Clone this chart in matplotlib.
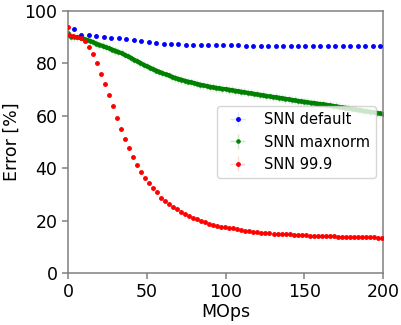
import numpy as np
import matplotlib
matplotlib.use("Agg")
import matplotlib.pyplot as plt

# SNN default (blue)
default_x = np.arange(3.8, 200, 4.74)
default_err = [93.2, 91.0, 90.7, 90.3, 90.0, 89.8, 89.6, 89.3, 88.9, 88.5,
               88.1, 87.8, 87.6, 87.4, 87.3, 87.2, 87.1, 87.0, 87.0, 86.9,
               86.9, 86.9, 86.9, 86.8, 86.8, 86.8, 86.8, 86.8, 86.8, 86.8,
               86.7, 86.7, 86.7, 86.7, 86.7, 86.7, 86.7, 86.7, 86.7, 86.7,
               86.7, 86.7]

# SNN maxnorm (green), every 2 MOps
maxnorm_x = np.arange(0, 201, 2)
maxnorm_err = [91.5, 90.2, 90.1, 90.0, 89.7, 89.4, 89.0, 88.6, 88.1, 87.6,
               87.1, 86.7, 86.2, 85.8, 85.3, 84.9, 84.4, 83.9, 83.3, 82.7,
               82.1, 81.4, 80.8, 80.2, 79.5, 78.9, 78.4, 77.8, 77.3, 76.8,
               76.3, 75.8, 75.4, 74.9, 74.5, 74.1, 73.8, 73.4, 73.1, 72.8,
               72.5, 72.2, 71.9, 71.6, 71.4, 71.1, 70.9, 70.7, 70.5, 70.3,
               70.2, 70.0, 69.8, 69.6, 69.4, 69.2, 69.0, 68.8, 68.6, 68.4,
               68.2, 68.0, 67.8, 67.6, 67.4, 67.2, 67.1, 66.9, 66.7, 66.5,
               66.3, 66.1, 65.9, 65.7, 65.5, 65.4, 65.2, 65.0, 64.9, 64.7,
               64.5, 64.4, 64.2, 64.0, 63.8, 63.6, 63.4, 63.2, 63.1, 62.9,
               62.7, 62.5, 62.3, 62.1, 61.9, 61.7, 61.5, 61.3, 61.1, 60.9,
               60.7]
maxnorm_band = 1.5

# SNN 99.9 (red)
p999_x = np.concatenate([[0.0], np.arange(0.4, 200, 2.55)])
p999_err = [93.8,
            90.8, 90.6, 90.2, 89.9, 88.5, 86.3, 83.5, 80.0, 76.0, 72.0,
            67.8, 63.6, 59.2, 55.0, 51.3, 47.7, 44.4, 41.3, 38.5, 36.3,
            34.4, 32.4, 30.8, 28.7, 27.5, 26.2, 25.1, 24.3, 23.4, 22.6,
            21.9, 21.1, 20.5, 19.7, 19.4, 18.8, 18.4, 17.9, 17.7, 17.4,
            17.2, 17.0, 16.7, 16.5, 16.2, 16.0, 15.8, 15.6, 15.3, 15.2,
            15.1, 15.0, 14.9, 14.8, 14.7, 14.7, 14.6, 14.5, 14.5, 14.4,
            14.3, 14.3, 14.2, 14.1, 14.1, 14.0, 14.0, 13.9, 13.9, 13.8,
            13.8, 13.7, 13.7, 13.7, 13.6, 13.6, 13.6, 13.5, 13.5]

plt.rcParams["font.family"] = "DejaVu Sans"
fig = plt.figure(figsize=(4.02, 3.25), dpi=100)
ax = fig.add_axes([0.169, 0.16, 0.784, 0.806])

ax.plot(maxnorm_x, maxnorm_err, color="green", linewidth=3, zorder=2)
ax.errorbar(maxnorm_x, maxnorm_err, yerr=maxnorm_band, xerr=1.0, fmt=".",
            color="green", markersize=4.5, ecolor=(0.0, 0.5, 0.0, 0.2),
            elinewidth=1, label="SNN maxnorm", zorder=2)
ax.errorbar(default_x, default_err, yerr=0.4, xerr=1.0, fmt=".",
            color="blue", markersize=5, ecolor=(0.0, 0.0, 1.0, 0.12),
            elinewidth=1, label="SNN default", zorder=3)
ax.errorbar(p999_x, p999_err, yerr=0.5, xerr=1.0, fmt=".",
            color="red", markersize=5, ecolor=(1.0, 0.0, 0.0, 0.15),
            elinewidth=1, label="SNN 99.9", zorder=3)

ax.set_xlim(0, 200)
ax.set_ylim(0, 100)
ax.set_xticks([0, 50, 100, 150, 200])
ax.set_yticks([0, 20, 40, 60, 80, 100])
ax.set_xlabel("MOps", fontsize=12.5, labelpad=1)
ax.set_ylabel("Error [%]", fontsize=12.5, labelpad=3)
ax.tick_params(labelsize=12.5, color="gray", length=4, width=1.1)
for s in ax.spines.values():
    s.set_color("gray")
    s.set_linewidth(1.1)

handles, labels = ax.get_legend_handles_labels()
order = [1, 0, 2]
ax.legend([handles[i] for i in order], [labels[i] for i in order],
          loc="center right", fontsize=10.5, framealpha=0.8)

fig.savefig("out.png", dpi=100)
